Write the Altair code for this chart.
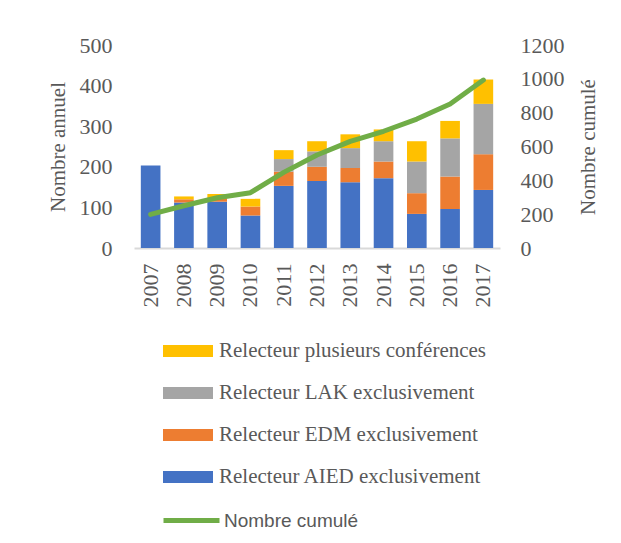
import altair as alt
import pandas as pd

years = ["2007", "2008", "2009", "2010", "2011", "2012", "2013", "2014", "2015", "2016", "2017"]
aied = [203, 112, 114, 80, 153, 165, 162, 172, 84, 96, 143]
edm = [0, 8, 7, 22, 35, 35, 35, 41, 51, 80, 88]
lak = [0, 0, 0, 0, 31, 38, 49, 50, 78, 94, 124]
plusieurs = [0, 7, 12, 19, 22, 25, 34, 29, 50, 43, 60]
cumul = [199, 250, 297, 327, 447, 550, 630, 690, 762, 851, 993]

categories = [
    "Relecteur AIED exclusivement",
    "Relecteur EDM exclusivement",
    "Relecteur LAK exclusivement",
    "Relecteur plusieurs conférences",
]
colors = ["#4472C4", "#ED7D31", "#A5A5A5", "#FFC000"]
line_name = "Nombre cumulé"

rows = []
for i, y in enumerate(years):
    for k, (cat, vals) in enumerate(zip(categories, [aied, edm, lak, plusieurs])):
        rows.append({"annee": y, "categorie": cat, "valeur": vals[i], "ordre": k})
bars_df = pd.DataFrame(rows)
line_df = pd.DataFrame({"annee": years, "cumul": cumul, "serie": [line_name] * len(years)})

TXT = "#595959"
SERIF = "Liberation Serif"

x_enc = alt.X(
    "annee:O",
    sort=years,
    scale=alt.Scale(paddingInner=0.41, paddingOuter=0.205),
    axis=alt.Axis(
        title=None, labelAngle=270, labelAlign="right", labelBaseline="middle",
        labelPadding=15, ticks=False, domainColor="#d9d9d9", domainWidth=2,
        labelFont=SERIF, labelFontSize=22, labelColor=TXT, grid=False,
    ),
)

bars = alt.Chart(bars_df).mark_bar().encode(
    x=x_enc,
    y=alt.Y(
        "valeur:Q", stack="zero",
        scale=alt.Scale(domain=[0, 500], nice=False),
        axis=alt.Axis(
            values=[0, 100, 200, 300, 400, 500], title="Nombre annuel", format="d",
            domain=False, ticks=False, grid=False, labelPadding=22,
            labelFont=SERIF, labelFontSize=22, labelColor=TXT,
            titleFont=SERIF, titleFontSize=21, titleColor=TXT, titleFontWeight="normal",
            titleAngle=270, titleX=-76, titleY=101.5, titleBaseline="middle", titleAlign="center",
        ),
    ),
    color=alt.Color(
        "categorie:N",
        scale=alt.Scale(domain=categories[::-1], range=colors[::-1]),
        legend=alt.Legend(
            orient="none", legendX=29, legendY=281, title=None,
            symbolType="M-1,-0.24H1V0.24H-1Z", symbolSize=2500, symbolStrokeWidth=0,
            symbolOpacity=1,
            labelFont=SERIF, labelFontSize=21, labelColor=TXT, labelOffset=6,
            rowPadding=7, labelLimit=400,
        ),
    ),
    order=alt.Order("ordre:Q", sort="ascending"),
)

line = alt.Chart(line_df).mark_line(strokeWidth=5, strokeCap="round", strokeJoin="round").encode(
    x=alt.X("annee:O", sort=years),
    y=alt.Y(
        "cumul:Q",
        scale=alt.Scale(domain=[0, 1200], nice=False),
        axis=alt.Axis(
            orient="right", values=[0, 200, 400, 600, 800, 1000, 1200], title="Nombre cumulé",
            format="d",
            domain=False, ticks=False, grid=False, labelPadding=20,
            labelFont=SERIF, labelFontSize=22, labelColor=TXT,
            titleFont=SERIF, titleFontSize=21, titleColor=TXT, titleFontWeight="normal",
            titleAngle=270, titleX=88, titleY=101.5, titleBaseline="middle", titleAlign="center",
        ),
    ),
    stroke=alt.Stroke(
        "serie:N",
        scale=alt.Scale(domain=[line_name], range=["#70AD47"]),
        legend=alt.Legend(
            orient="none", legendX=27, legendY=445, title=None,
            symbolType="stroke", symbolSize=3136, symbolStrokeWidth=5,
            labelFont="Liberation Sans", labelFontSize=19, labelColor=TXT, labelOffset=2,
        ),
    ),
)

chart = alt.layer(bars, line).resolve_scale(
    y="independent", color="independent", stroke="independent"
).properties(
    width=366, height=203,
    autosize=alt.AutoSizeParams(type="none"),
    padding={"left": 126, "top": 37, "right": 105, "bottom": 286},
).configure_view(stroke=None)

chart.save("out.html", embed_options={"renderer": "svg", "actions": False})
